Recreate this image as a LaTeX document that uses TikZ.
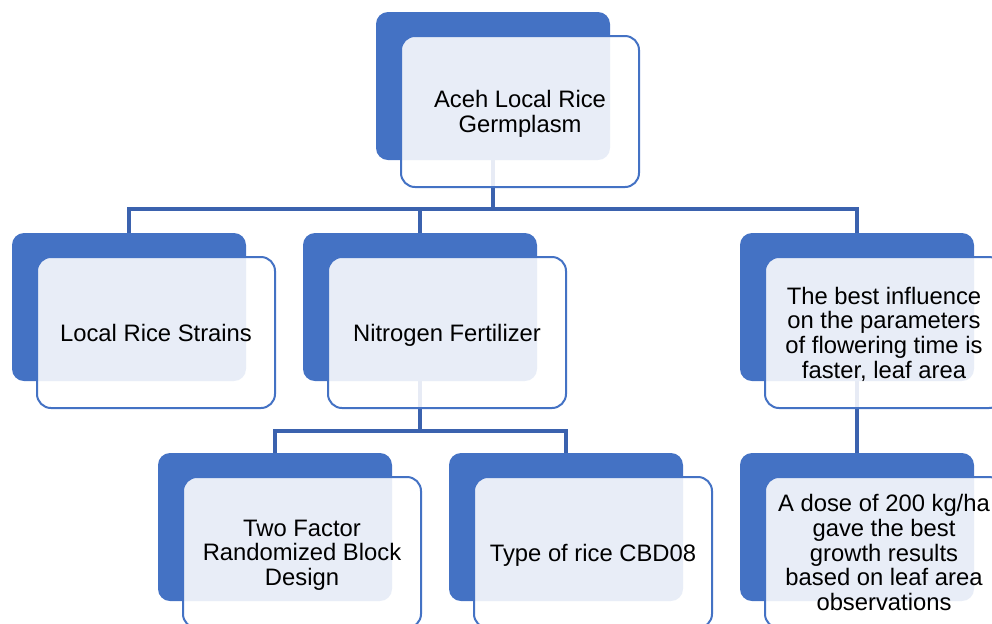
\documentclass[tikz,border=0pt]{standalone}
\usepackage{fontspec}
\setmainfont{Liberation Sans}
\usetikzlibrary{backgrounds}
\definecolor{accent}{HTML}{4472C4}
\definecolor{connc}{HTML}{3B62AE}
\begin{document}
\begin{tikzpicture}[x=0.5pt,y=-0.5pt,
  backbox/.style={draw=none,fill=accent,rounded corners=6pt,minimum width=117pt,minimum height=74pt,inner sep=0pt},
  frontbox/.style={draw=accent,line width=1pt,fill=white,fill opacity=0.88,text opacity=1,draw opacity=1,rounded corners=7pt,minimum width=119pt,minimum height=75.5pt,align=center,font=\fontsize{11.9}{12.3}\selectfont,inner sep=0pt,text depth=0pt},
  conn/.style={draw=connc,line width=1.6pt}]
\useasboundingbox (0,0) rectangle (992,623);
\clip (0,0) rectangle (992,623);
% level 1
\node[backbox] (b1) at (493,86) {};
\node[frontbox] (f1) at (520,111.5) {Aceh Local Rice\\Germplasm};
% level 2
\node[backbox] (b2) at (129,307) {};
\node[frontbox] (f2) at (156,332.5) {Local Rice Strains};
\node[backbox] (b3) at (420,307) {};
\node[frontbox] (f3) at (447,332.5) {Nitrogen Fertilizer};
\node[backbox] (b4) at (857,307) {};
\node[frontbox] (f4) at (884,332.5) {The best influence\\on the parameters\\of flowering time is\\faster, leaf area};
% level 3
\node[backbox] (b5) at (275,527) {};
\node[frontbox] (f5) at (302,552.5) {Two Factor\\Randomized Block\\Design};
\node[backbox] (b6) at (566,527) {};
\node[frontbox] (f6) at (593,552.5) {Type of rice CBD08};
\node[backbox] (b7) at (857,527) {};
\node[frontbox] (f7) at (884,552.5) {A dose of 200 kg/ha\\gave the best\\growth results\\based on leaf area\\observations};
% connectors
\coordinate (j1) at (493,209);
\coordinate (j2) at (420,431);
\begin{pgfonlayer}{background}
\draw[conn] (b1.south) -- (j1) -| (b2.north);
\draw[conn] (j1) -| (b3.north);
\draw[conn] (j1) -| (b4.north);
\draw[conn] (b3.south) -- (j2) -| (b5.north);
\draw[conn] (j2) -| (b6.north);
\draw[conn] (b4.south) -- (b7.north);
\end{pgfonlayer}
\end{tikzpicture}
\end{document}
